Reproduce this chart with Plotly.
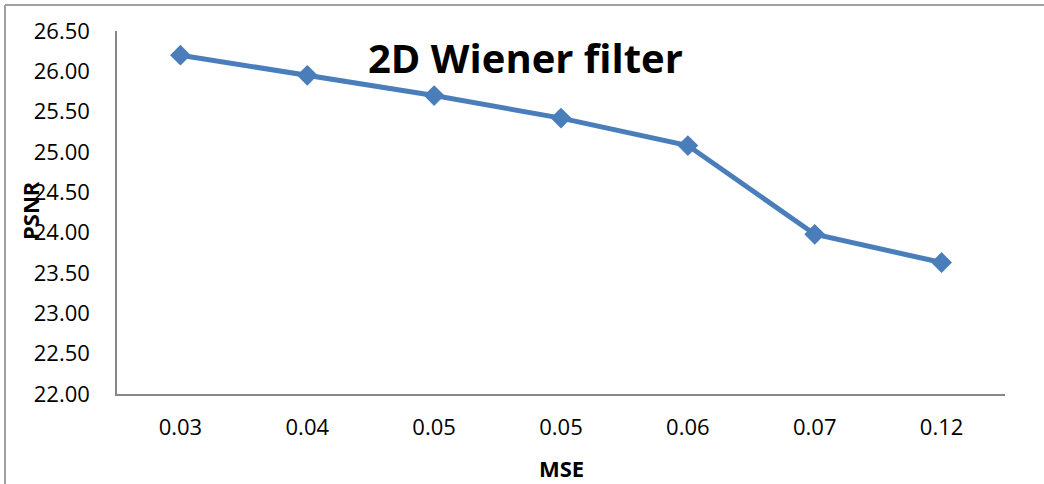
import plotly.graph_objects as go

mse_labels = ["0.03", "0.04", "0.05", "0.05", "0.06", "0.07", "0.12"]
psnr_values = [26.20, 25.95, 25.70, 25.42, 25.08, 23.98, 23.63]
y_ticks = [22.0, 22.5, 23.0, 23.5, 24.0, 24.5, 25.0, 25.5, 26.0, 26.5]

positions = list(range(len(mse_labels)))
blue = "#4a7ebb"
axis_gray = "#878787"
font_family = "Open Sans"

W, H = 1044, 484
L, R, T, B = 117, 39, 31, 90
pw, ph = W - L - R, H - T - B

def px_x(x):
    return (x - L) / pw

def px_y(y):
    return 1 - (y - T) / ph

fig = go.Figure()
fig.add_trace(go.Scatter(
    x=positions, y=psnr_values, mode="lines+markers",
    line=dict(color=blue, width=5),
    marker=dict(symbol="diamond", size=16, color=blue),
    showlegend=False, hoverinfo="skip",
))

fig.update_layout(
    width=W, height=H,
    margin=dict(l=L, r=R, t=T, b=B),
    paper_bgcolor="white", plot_bgcolor="white",
    font=dict(family=font_family, color="black", size=22),
    xaxis=dict(
        range=[-0.5, len(mse_labels) - 0.5],
        tickvals=positions, ticktext=mse_labels,
        showline=True, linecolor=axis_gray, linewidth=1.5,
        showgrid=False, zeroline=False, ticks="",
        ticklabelstandoff=13,
        tickfont=dict(size=22, family=font_family),
    ),
    yaxis=dict(
        range=[y_ticks[0], y_ticks[-1]],
        tickvals=y_ticks, tickformat=".2f",
        showline=True, linecolor=axis_gray, linewidth=1.5,
        showgrid=False, zeroline=False, ticks="",
        ticklabelstandoff=21,
        tickfont=dict(size=22, family=font_family),
    ),
    annotations=[
        dict(text="<b>2D Wiener filter</b>", xref="paper", yref="paper",
             x=px_x(525), y=px_y(57), xanchor="center", yanchor="middle",
             showarrow=False, font=dict(size=40, family=font_family)),
        dict(text="<b>MSE</b>", xref="paper", yref="paper",
             x=px_x(561), y=px_y(468), xanchor="center", yanchor="middle",
             showarrow=False, font=dict(size=22, family=font_family)),
        dict(text="<b>PSNR</b>", xref="paper", yref="paper",
             x=px_x(30), y=px_y(211), xanchor="center", yanchor="middle",
             textangle=-90, showarrow=False,
             font=dict(size=22, family=font_family)),
    ],
    shapes=[
        dict(type="line", xref="paper", yref="paper",
             x0=px_x(5), x1=px_x(1060), y0=px_y(5), y1=px_y(5),
             line=dict(color="#a0a0a0", width=2)),
        dict(type="line", xref="paper", yref="paper",
             x0=px_x(5), x1=px_x(5), y0=px_y(5), y1=px_y(500),
             line=dict(color="#a0a0a0", width=2)),
    ],
)

fig.write_html("out.html", config={"displayModeBar": False},
               post_script="document.body.style.margin='0px';")
